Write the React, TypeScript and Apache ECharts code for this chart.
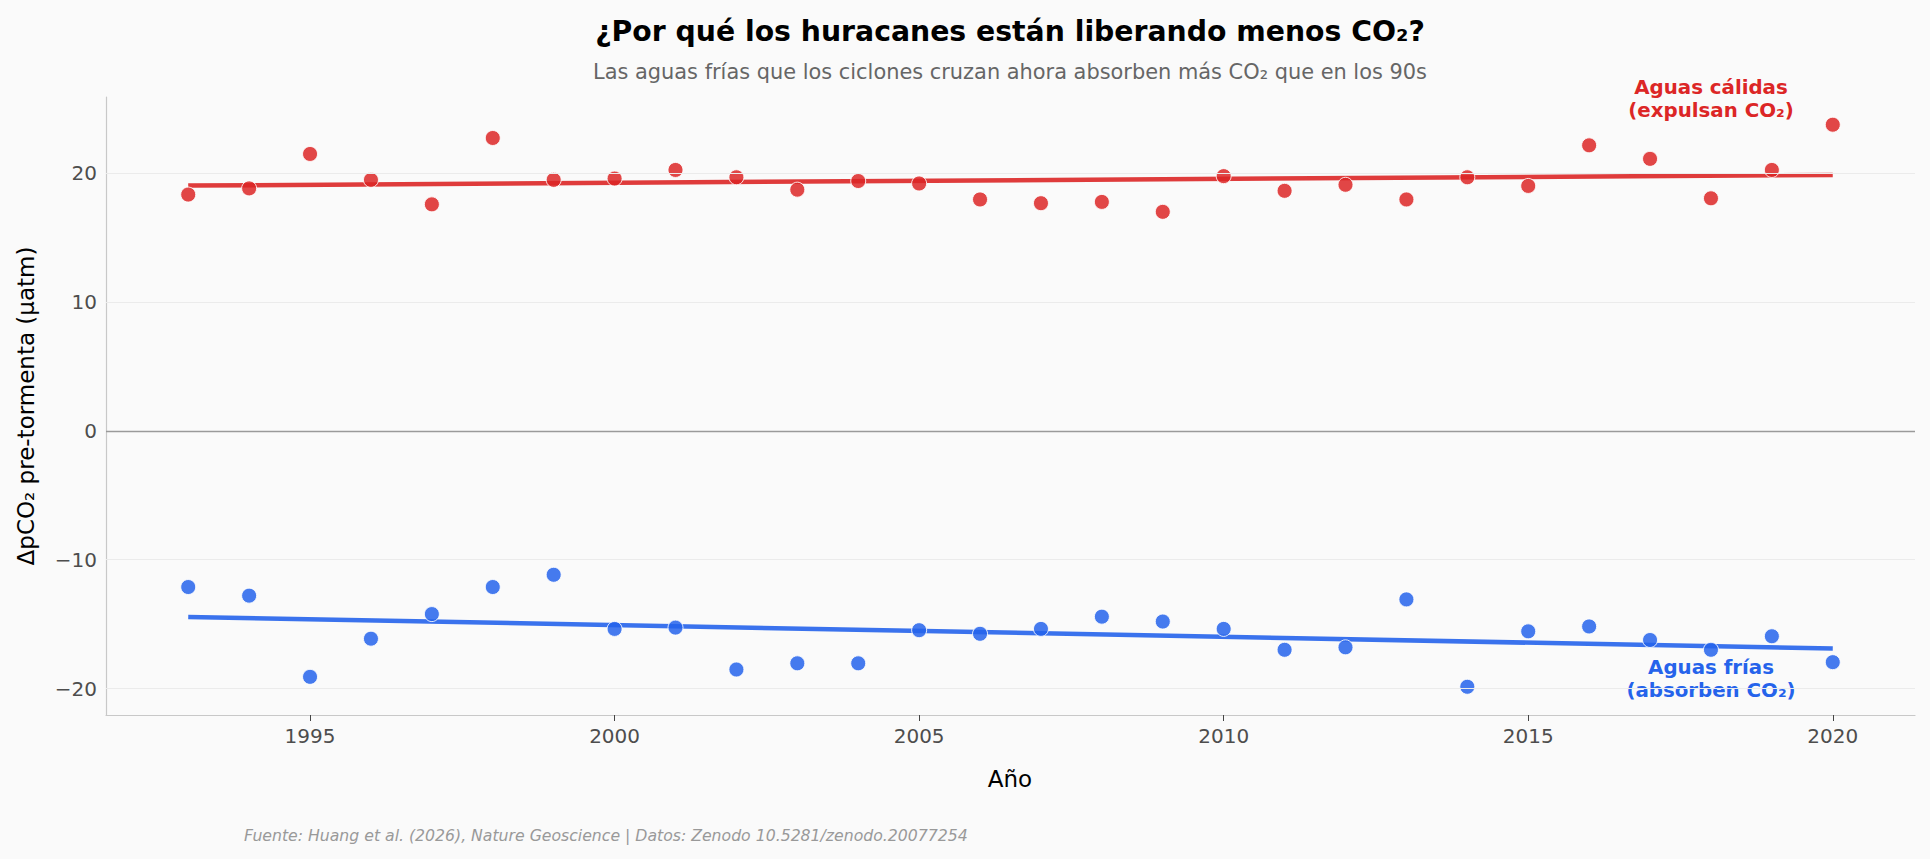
import React, { useEffect, useRef } from "react";
import * as echarts from "echarts";

// Annual mean pre-storm ΔpCO₂ (µatm) along hurricane tracks
const years = [
  1993, 1994, 1995, 1996, 1997, 1998, 1999, 2000, 2001, 2002, 2003, 2004, 2005, 2006,
  2007, 2008, 2009, 2010, 2011, 2012, 2013, 2014, 2015, 2016, 2017, 2018, 2019, 2020,
];
const warmWaters = [
  18.33, 18.81, 21.48, 19.47, 17.57, 22.72, 19.47, 19.57, 20.24, 19.67, 18.71, 19.38, 19.19, 17.95,
  17.66, 17.76, 16.99, 19.76, 18.62, 19.09, 17.95, 19.67, 19.0, 22.15, 21.1, 18.04, 20.24, 23.75,
];
const coldWaters = [
  -12.12, -12.79, -19.09, -16.13, -14.22, -12.12, -11.17, -15.37, -15.27, -18.52, -18.04, -18.04, -15.47, -15.75,
  -15.37, -14.42, -14.8, -15.37, -16.99, -16.8, -13.08, -19.86, -15.56, -15.18, -16.23, -16.99, -15.94, -17.95,
];
const xTicks = [1995, 2000, 2005, 2010, 2015, 2020];
const yTicks = [-20, -10, 0, 10, 20];

const WARM = "#dc2626";
const COLD = "#2563eb";
const FONT = "DejaVu Sans";

// Ordinary least-squares fit, returned as the two end points of the line
function trend(xs: number[], ys: number[]): number[][] {
  const n = xs.length;
  const mx = xs.reduce((a, b) => a + b, 0) / n;
  const my = ys.reduce((a, b) => a + b, 0) / n;
  let sxy = 0;
  let sxx = 0;
  for (let i = 0; i < n; i++) {
    sxy += (xs[i] - mx) * (ys[i] - my);
    sxx += (xs[i] - mx) ** 2;
  }
  const slope = sxy / sxx;
  const x0 = xs[0];
  const x1 = xs[n - 1];
  return [
    [x0, my + slope * (x0 - mx)],
    [x1, my + slope * (x1 - mx)],
  ];
}

const fmtNum = (v: number) => (v < 0 ? "\u2212" + Math.abs(v) : String(v));

export default function App() {
  const ref = useRef<HTMLDivElement>(null);

  useEffect(() => {
    if (!ref.current) return;
    const chart = echarts.init(ref.current, null, { renderer: "svg" });

    const warmPts = years.map((y, i) => [y, warmWaters[i]]);
    const coldPts = years.map((y, i) => [y, coldWaters[i]]);

    const gridLines = yTicks
      .filter((v) => v !== 0)
      .map((v) => ({ yAxis: v, lineStyle: { color: "#ebebeb", width: 1, type: "solid" } }));

    chart.setOption({
      animation: false,
      backgroundColor: "#fafafa",
      textStyle: { fontFamily: FONT },
      grid: { left: 106, right: 15, top: 97, bottom: 144, containLabel: false },
      xAxis: {
        type: "value",
        min: 1991.65,
        max: 2021.35,
        axisLine: { show: true, onZero: false, lineStyle: { color: "#c8c8c8", width: 1.2 } },
        axisTick: { show: true, length: 6, lineStyle: { color: "#444" }, customValues: xTicks },
        axisLabel: {
          customValues: xTicks,
          color: "#4d4d4d",
          fontSize: 20,
          fontFamily: FONT,
          margin: 11,
          formatter: (v: number) => String(v),
        },
        splitLine: { show: false },
      },
      yAxis: {
        type: "value",
        min: -22.05,
        max: 25.9,
        axisLine: { show: true, onZero: false, lineStyle: { color: "#c8c8c8", width: 1.2 } },
        axisTick: { show: false, customValues: yTicks },
        axisLabel: {
          customValues: yTicks,
          color: "#4d4d4d",
          fontSize: 20,
          fontFamily: FONT,
          margin: 9,
          formatter: (v: number) => fmtNum(v),
        },
        splitLine: { show: false },
      },
      series: [
        {
          name: "grid",
          type: "line",
          data: [],
          silent: true,
          z: 0,
          markLine: {
            silent: true,
            symbol: "none",
            label: { show: false },
            data: [...gridLines, { yAxis: 0, lineStyle: { color: "#9a9a9a", width: 1.3, type: "solid" } }],
          },
        },
        {
          name: "Tendencia cálidas",
          type: "line",
          data: trend(years, warmWaters),
          showSymbol: false,
          symbol: "none",
          lineStyle: { color: WARM, width: 4.5, opacity: 0.9 },
          z: 2,
        },
        {
          name: "Tendencia frías",
          type: "line",
          data: trend(years, coldWaters),
          showSymbol: false,
          symbol: "none",
          lineStyle: { color: COLD, width: 4.5, opacity: 0.9 },
          z: 2,
        },
        {
          name: "Aguas cálidas",
          type: "scatter",
          data: warmPts,
          symbolSize: 15,
          itemStyle: { color: WARM, opacity: 0.85, borderColor: "#ffffff", borderWidth: 1 },
          z: 3,
        },
        {
          name: "Aguas frías",
          type: "scatter",
          data: coldPts,
          symbolSize: 15,
          itemStyle: { color: COLD, opacity: 0.85, borderColor: "#ffffff", borderWidth: 1 },
          z: 3,
        },
      ],
      graphic: [
        {
          type: "text",
          x: 1010,
          y: 31,
          style: {
            text: "¿Por qué los huracanes están liberando menos CO₂?",
            fontFamily: FONT,
            fontSize: 28.3,
            fontWeight: "bold",
            fill: "#000",
            textAlign: "center",
            textVerticalAlign: "middle",
          },
        },
        {
          type: "text",
          x: 1010,
          y: 72,
          style: {
            text: "Las aguas frías que los ciclones cruzan ahora absorben más CO₂ que en los 90s",
            fontFamily: FONT,
            fontSize: 20.9,
            fill: "#666",
            textAlign: "center",
            textVerticalAlign: "middle",
          },
        },
        {
          type: "text",
          x: 1711,
          y: 99,
          style: {
            text: "Aguas cálidas\n(expulsan CO₂)",
            fontFamily: FONT,
            fontSize: 19.8,
            fontWeight: "bold",
            lineHeight: 23,
            fill: WARM,
            textAlign: "center",
            textVerticalAlign: "middle",
          },
        },
        {
          type: "text",
          x: 1711,
          y: 679,
          style: {
            text: "Aguas frías\n(absorben CO₂)",
            fontFamily: FONT,
            fontSize: 19.8,
            fontWeight: "bold",
            lineHeight: 23,
            fill: COLD,
            textAlign: "center",
            textVerticalAlign: "middle",
          },
        },
        {
          type: "text",
          x: 1010,
          y: 779,
          style: {
            text: "Año",
            fontFamily: FONT,
            fontSize: 23,
            fill: "#000",
            textAlign: "center",
            textVerticalAlign: "middle",
          },
        },
        {
          type: "text",
          x: 26,
          y: 406,
          rotation: Math.PI / 2,
          style: {
            text: "ΔpCO₂ pre-tormenta (µatm)",
            fontFamily: FONT,
            fontSize: 23,
            fill: "#000",
            textAlign: "center",
            textVerticalAlign: "middle",
          },
        },
        {
          type: "text",
          x: 244,
          y: 835,
          style: {
            text: "Fuente: Huang et al. (2026), Nature Geoscience | Datos: Zenodo 10.5281/zenodo.20077254",
            fontFamily: FONT,
            fontSize: 15.7,
            fontStyle: "italic",
            fill: "#999",
            textAlign: "left",
            textVerticalAlign: "middle",
          },
        },
      ],
    });

    return () => chart.dispose();
  }, []);

  return (
    <div
      ref={ref}
      style={{ position: "absolute", left: 0, top: 0, width: 1930, height: 859, background: "#fafafa" }}
    />
  );
}
